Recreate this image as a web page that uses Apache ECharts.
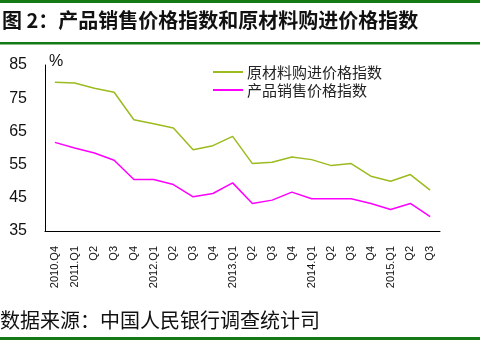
<!DOCTYPE html>
<html><head><meta charset="utf-8">
<script src="https://cdn.jsdelivr.net/npm/echarts@6/dist/echarts.min.js"></script>
<style>html,body{margin:0;padding:0;background:#fff}#c{width:486px;height:341px}</style>
</head><body><div id="c"></div>
<script>
const categories = ['2010.Q4','2011.Q1','Q2','Q3','Q4','2012.Q1','Q2','Q3','Q4','2013.Q1','Q2','Q3','Q4','2014.Q1','Q2','Q3','Q4','2015.Q1','Q2','Q3'];
const rawMaterial = [79.8,79.6,78.0,76.8,68.5,67.3,66.0,59.5,60.7,63.5,55.3,55.7,57.3,56.5,54.7,55.3,51.5,50.0,52.0,47.3];
const productSales = [61.7,60.0,58.5,56.3,50.5,50.5,49.0,45.3,46.3,49.5,43.3,44.3,46.7,44.7,44.7,44.7,43.3,41.5,43.3,39.3];
const yTicks = [35,45,55,65,75,85];
const seriesNames = ['原材料购进价格指数','产品销售价格指数'];

const chart = echarts.init(document.getElementById('c'), null, {renderer:'canvas'});
const cjk = '"Noto Sans CJK SC", sans-serif';
chart.setOption({
  backgroundColor:'#fff',
  animation:false,
  graphic:[
    {type:'rect', shape:{x:0,y:0,width:480,height:3}, style:{fill:'#157a15'}},
    {type:'rect', shape:{x:0,y:42,width:480,height:2.5}, style:{fill:'#157a15'}},
    {type:'rect', shape:{x:0,y:337,width:480,height:3}, style:{fill:'#157a15'}},
    {type:'text', left:2, top:10, style:{text:'图 2：产品销售价格指数和原材料购进价格指数', font:'bold 20px "Noto Sans CJK SC"', fill:'#111'}},
    {type:'text', left:0, top:310, style:{text:'数据来源：中国人民银行调查统计司', font:'20px "Noto Sans CJK SC"', fill:'#111'}},
    {type:'text', left:49, top:54, style:{text:'%', font:'16px "Liberation Sans"', fill:'#111'}}
  ],
  legend:{
    orient:'vertical', left:208, top:59,
    itemWidth:30, itemHeight:2, itemGap:2, icon:'rect',
    textStyle:{fontFamily:cjk, fontSize:15, color:'#222', lineHeight:16, padding:[0,0,0,-1]},
    data:seriesNames
  },
  grid:{left:45, right:46, top:65, bottom:110, containLabel:false},
  xAxis:{
    type:'category', data:categories, boundaryGap:true,
    axisLine:{lineStyle:{color:'#000', width:1}},
    axisTick:{inside:true, length:4, lineStyle:{color:'#000'}},
    axisLabel:{rotate:90, interval:0, fontSize:11, fontFamily:'"Liberation Sans", Arial', color:'#111', margin:15}
  },
  yAxis:{
    type:'value', min:yTicks[0], max:yTicks[yTicks.length-1], interval:10,
    splitLine:{show:false},
    axisLine:{show:true, lineStyle:{color:'#000', width:1}},
    axisTick:{show:false},
    axisLabel:{fontSize:16, fontFamily:'"Liberation Sans", Arial', color:'#111', margin:18}
  },
  series:[
    {name:seriesNames[0], type:'line', data:rawMaterial, symbol:'none', lineStyle:{color:'#9bbb1e', width:1.5}, itemStyle:{color:'#9bbb1e'}},
    {name:seriesNames[1], type:'line', data:productSales, symbol:'none', lineStyle:{color:'#ff00ff', width:1.5}, itemStyle:{color:'#ff00ff'}}
  ]
});
</script></body></html>
